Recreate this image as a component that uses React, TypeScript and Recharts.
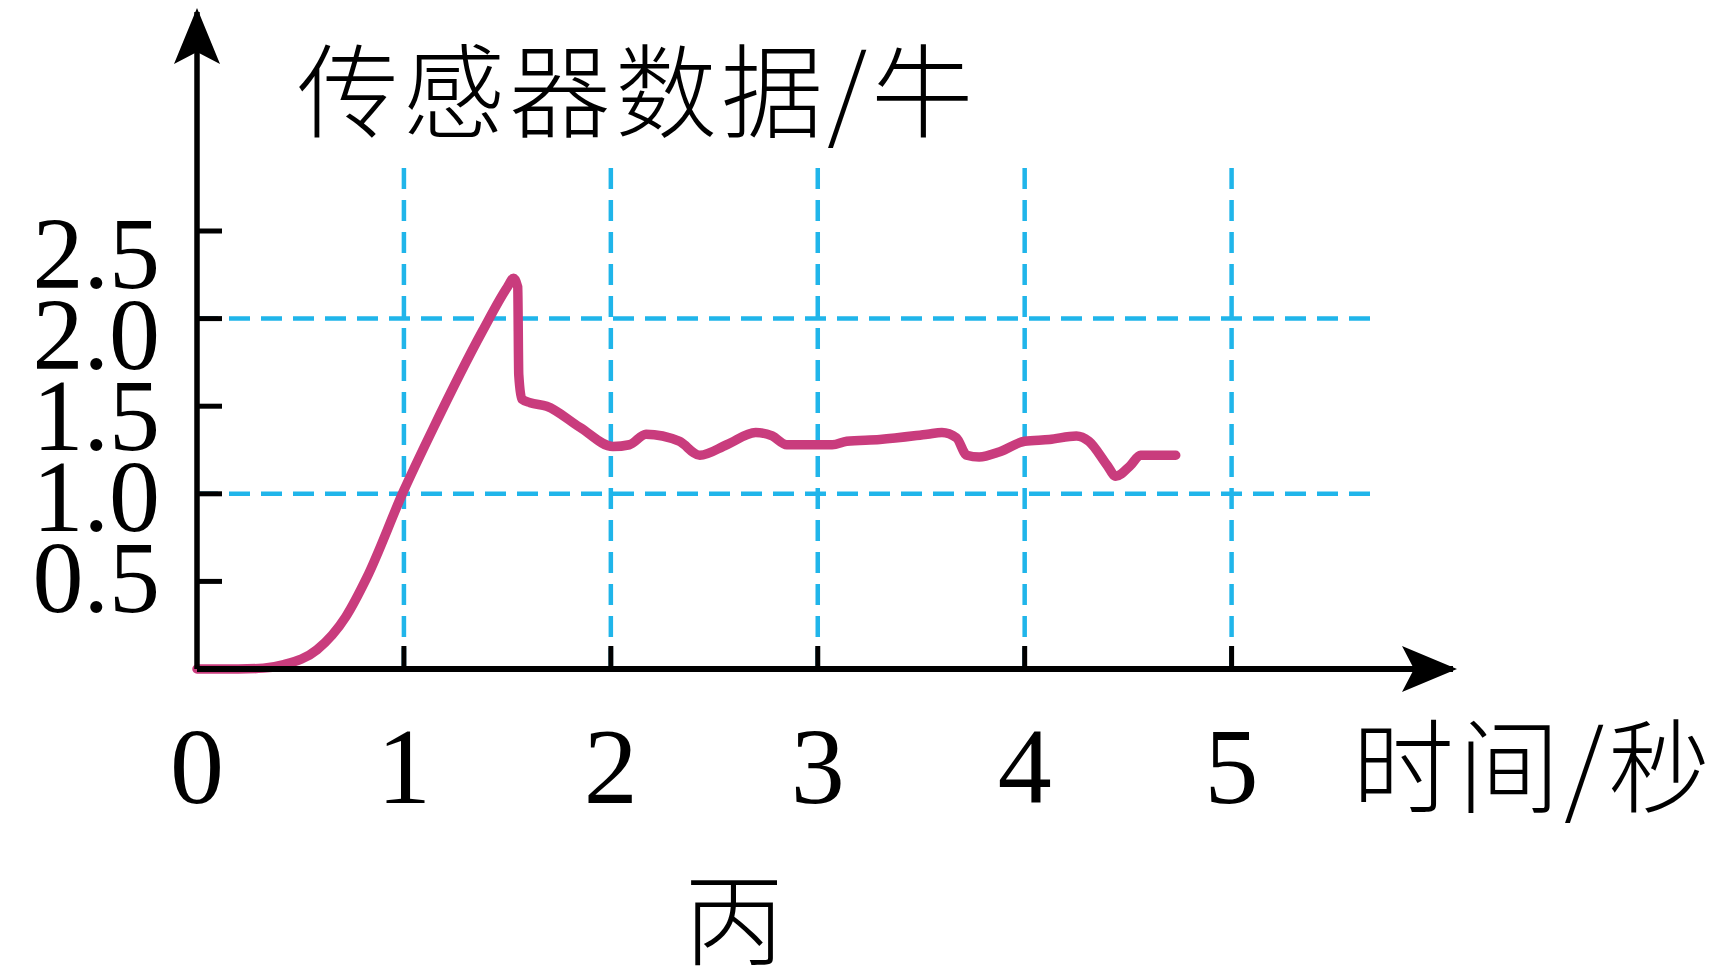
import { LineChart, Line, XAxis, YAxis, ReferenceLine, ReferenceDot } from "recharts";

// sensor reading (N) against time (s)
const TIME = [
  0, 0.2, 0.32, 0.42, 0.58, 0.72, 0.82, 1.0, 1.14, 1.38, 1.5, 1.53, 1.55, 1.555, 1.57, 1.61, 1.69,
  1.85, 2.01, 2.09, 2.17, 2.33, 2.43, 2.56, 2.7, 2.78, 2.85, 3.0, 3.07, 3.14, 3.3, 3.53, 3.6,
  3.67, 3.72, 3.78, 3.88, 4.0, 4.12, 4.25, 4.31, 4.4, 4.44, 4.51, 4.56, 4.73,
];
const FORCE = [
  0, 0, 0.005, 0.025, 0.11, 0.3, 0.52, 1.02, 1.37, 1.93, 2.18, 2.23, 2.18, 1.68, 1.54, 1.52, 1.5,
  1.38, 1.27, 1.28, 1.34, 1.3, 1.22, 1.28, 1.35, 1.33, 1.28, 1.28, 1.28, 1.3, 1.31, 1.34, 1.35,
  1.32, 1.22, 1.21, 1.24, 1.3, 1.31, 1.33, 1.3, 1.16, 1.1, 1.16, 1.22, 1.22,
];

const X_TICKS = [0, 1, 2, 3, 4, 5];
const Y_TICKS = [0.5, 1, 1.5, 2, 2.5];
const GRID_X = [1, 2, 3, 4, 5];
const GRID_Y = [1, 2];
const GRID_X_END = 5.7;
const GRID_Y_END = 2.86;
const X_MAX = 6.07;
const Y_MAX = 3.75;

const Y_TITLE = "传感器数据/牛";
const X_TITLE = "时间/秒";
const CAPTION = "丙";

const data = TIME.map((t, i) => ({ t, f: FORCE[i] }));

const CURVE = "#c93c7d";
const GRID = "#20b5ea";
const INK = "#000";
const SERIF = "'Liberation Serif', 'Times New Roman', serif";
const CJK = "'Noto Sans CJK SC', sans-serif";

const Y_TICK_MARGIN = 37;

function XTick({ x, y, payload }: any) {
  return (
    <g>
      {payload.value !== 0 && (
        <line x1={x} x2={x} y1={y} y2={y - 23} stroke={INK} strokeWidth={5} />
      )}
      <text x={x} y={y + 134} textAnchor="middle" fontFamily={SERIF} fontSize={108} fill={INK}>
        {payload.value}
      </text>
    </g>
  );
}

function YTick({ x, y, payload }: any) {
  const v = payload.value as number;
  return (
    <g>
      <line
        x1={x + Y_TICK_MARGIN}
        x2={x + Y_TICK_MARGIN + 25}
        y1={y}
        y2={y}
        stroke={INK}
        strokeWidth={5}
      />
      <text
        x={x}
        y={y + 30.5 + (v - 0.5) * 13}
        textAnchor="end"
        fontFamily={SERIF}
        fontSize={102}
        fill={INK}
      >
        {v.toFixed(1)}
      </text>
    </g>
  );
}

function YTitle({ viewBox }: any) {
  return (
    <text
      x={viewBox.x + viewBox.width + 100}
      y={viewBox.y + 118}
      fontFamily={CJK}
      fontWeight={300}
      fontSize={102}
      letterSpacing={4}
      fill={INK}
    >
      {Y_TITLE}
    </text>
  );
}

function XTitle({ viewBox }: any) {
  return (
    <g>
      <text
        x={viewBox.x + viewBox.width - 101}
        y={viewBox.y + 136}
        fontFamily={CJK}
        fontWeight={300}
        fontSize={102}
        letterSpacing={4}
        fill={INK}
      >
        {X_TITLE}
      </text>
      <text
        x={viewBox.x + 537}
        y={viewBox.y + 288}
        textAnchor="middle"
        fontFamily={CJK}
        fontWeight={300}
        fontSize={100}
        fill={INK}
      >
        {CAPTION}
      </text>
    </g>
  );
}

function RightArrow({ cx, cy }: any) {
  const tx = cx + 4;
  return <path d={`M${tx},${cy} L${tx - 55},${cy - 23} L${tx - 43},${cy} L${tx - 55},${cy + 23} Z`} fill={INK} />;
}

function UpArrow({ cx, cy }: any) {
  const ty = cy - 4;
  return <path d={`M${cx},${ty} L${cx - 23},${ty + 56} L${cx},${ty + 44} L${cx + 23},${ty + 56} Z`} fill={INK} />;
}

export default function App() {
  return (
    <div style={{ position: "absolute", left: 0, top: 0, width: 1716, height: 980, background: "#fff" }}>
      <LineChart width={1716} height={980} data={data} margin={{ top: 12, right: 263, left: 0, bottom: 161 }}>
        {GRID_Y.map((v) => (
          <ReferenceLine
            key={`gy${v}`}
            segment={[{ x: 0, y: v }, { x: GRID_X_END, y: v }]}
            stroke={GRID}
            strokeWidth={4.5}
            strokeDasharray="21 11"
            ifOverflow="visible"
          />
        ))}
        {GRID_X.map((v) => (
          <ReferenceLine
            key={`gx${v}`}
            segment={[{ x: v, y: GRID_Y_END }, { x: v, y: 0 }]}
            stroke={GRID}
            strokeWidth={4.5}
            strokeDasharray="21 11"
            ifOverflow="visible"
          />
        ))}
        <XAxis
          dataKey="t"
          type="number"
          domain={[0, X_MAX]}
          ticks={X_TICKS}
          interval={0}
          height={150}
          tickSize={0}
          tickMargin={0}
          tickLine={false}
          axisLine={{ stroke: INK, strokeWidth: 6 }}
          tick={<XTick />}
          label={<XTitle />}
        />
        <YAxis
          type="number"
          domain={[0, Y_MAX]}
          ticks={Y_TICKS}
          interval={0}
          width={197}
          tickSize={0}
          tickMargin={Y_TICK_MARGIN}
          tickLine={false}
          axisLine={{ stroke: INK, strokeWidth: 5.5 }}
          tick={<YTick />}
          label={<YTitle />}
        />
        <Line
          type="monotone"
          dataKey="f"
          stroke={CURVE}
          strokeWidth={9.5}
          strokeLinecap="round"
          strokeLinejoin="round"
          dot={false}
          isAnimationActive={false}
        />
        <ReferenceDot x={X_MAX} y={0} ifOverflow="visible" shape={<RightArrow />} />
        <ReferenceDot x={0} y={Y_MAX} ifOverflow="visible" shape={<UpArrow />} />
      </LineChart>
    </div>
  );
}
